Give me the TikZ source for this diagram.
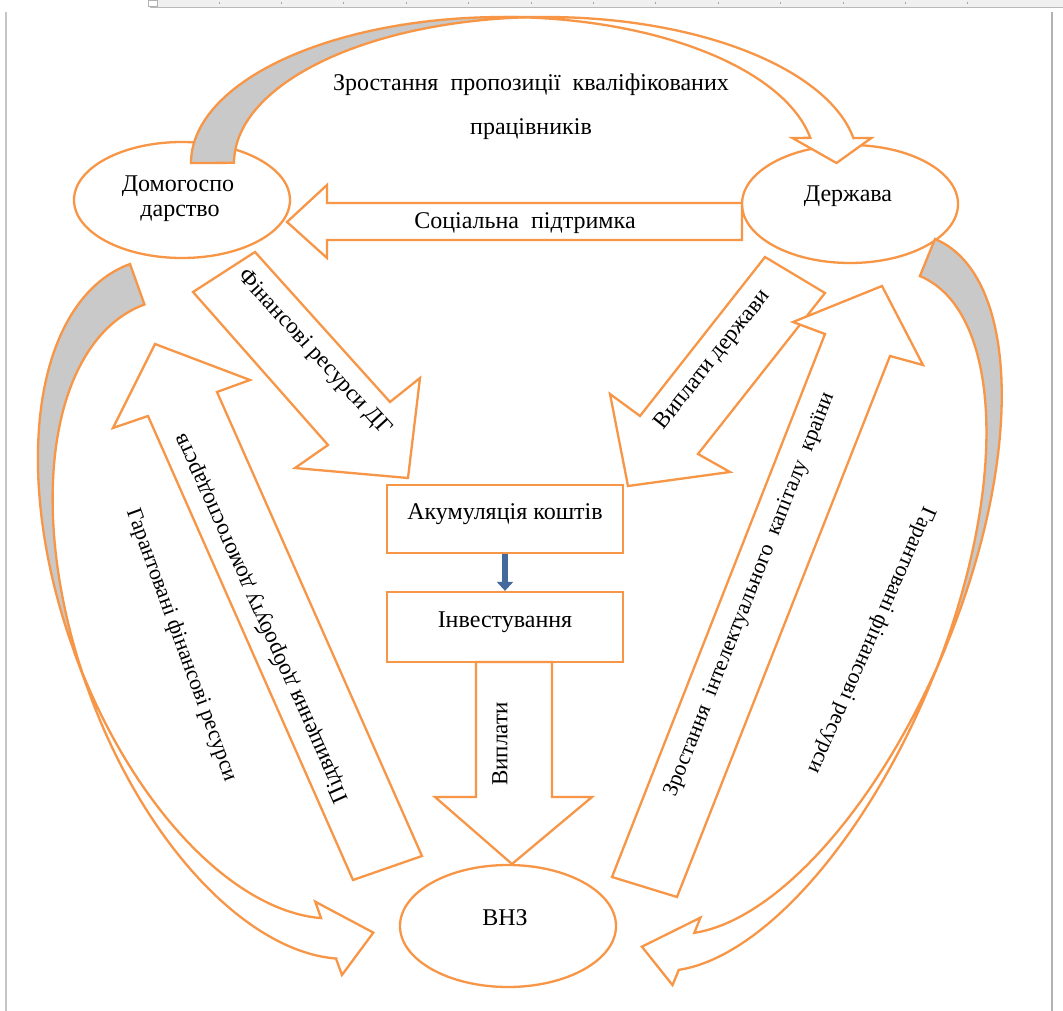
\documentclass[tikz,border=0pt]{standalone}
\usepackage{fontspec}
\setmainfont{Liberation Serif}
\usetikzlibrary{arrows.meta,shapes.geometric}
\definecolor{org}{HTML}{F79646}
\definecolor{shd}{HTML}{C9C9C9}
\definecolor{blu}{HTML}{44699C}
% curved block arrow in canonical frame (curved right arrow), args: w hR th aw ah
\newcommand\cvarrow[5]{%
 \pgfmathsetmacro\cW{#1}%
 \pgfmathsetmacro\cH{#2}%
 \pgfmathsetmacro\cT{#3}%
 \pgfmathsetmacro\cAW{#4}%
 \pgfmathsetmacro\cAH{#5}%
 \pgfmathsetmacro\cTa{180-asin(\cT/(2*\cH))}%
 \pgfmathsetmacro\cTb{180+asin(\cT/(2*\cH))}%
 \pgfmathsetmacro\cTA{acos(-\cAH/\cW)}%
 \pgfmathsetmacro\cDY{\cH*sqrt(1-(\cAH/\cW)^2)}%
 \pgfmathsetmacro\cYf{\cH+\cDY}%
 \pgfmathsetmacro\cYs{\cH+\cT+\cDY}%
 \pgfmathsetmacro\cDH{(\cAW-\cT)/2}%
 \pgfmathsetmacro\cYq{\cYf-\cDH}%
 \pgfmathsetmacro\cYe{\cYs+\cDH}%
 \pgfmathsetmacro\cYt{2*(\cH+(\cT+\cAW)/4)-\cAW/2}%
 \filldraw[gf] plot[domain=0:1,samples=70]
   ({\cW*cos(270+\x*(\cTa-270))},{\cH+\cH*sin(270+\x*(\cTa-270))})
   -- plot[domain=0:1,samples=70]
   ({\cW*cos(\cTb+\x*(270-\cTb))},{\cH+\cT+\cH*sin(\cTb+\x*(270-\cTb))})
   -- cycle;
 \filldraw[wf] plot[domain=0:1,samples=70]
   ({\cW*cos(180+\x*(\cTA-180))},{\cH+\cH*sin(180+\x*(\cTA-180))})
   -- (-\cAH,\cYq) -- (0,\cYt) -- (-\cAH,\cYe) -- (-\cAH,\cYs)
   -- plot[domain=0:1,samples=70]
   ({\cW*cos(\cTA+\x*(180-\cTA))},{\cH+\cT+\cH*sin(\cTA+\x*(180-\cTA))})
   -- cycle;
}
\begin{document}
\begin{tikzpicture}[x=1pt,y=-1pt,
  ol/.style={draw=org, line width=2.3pt, line join=miter},
  wf/.style={ol, fill=white},
  gf/.style={ol, fill=shd},
  ell/.style={wf, ellipse, inner sep=0pt, minimum width=216pt},
  boxn/.style={wf, rectangle, inner sep=0pt, minimum width=236pt},
  lbl/.style={font=\fontsize{24}{28}\selectfont, inner sep=0pt, text=black},
  rlbl/.style={font=\fontsize{23}{27}\selectfont, inner sep=0pt, text=black},
  slbl/.style={font=\fontsize{22}{26}\selectfont, inner sep=0pt, text=black}
]
\useasboundingbox[fill=white] (0,0) rectangle (1063,1011);
% ruler and window borders
\fill[gray!12] (150,0) rectangle (1063,7);
\draw[gray!55, line width=0.8pt] (150,7) -- (1063,7);
\draw[gray!60, line width=0.8pt, fill=white] (148,0) rectangle (157,6);
\foreach \k in {0,...,12}{\draw[gray!70, line width=0.8pt] ({219+62.4*\k},2) -- ({219+62.4*\k},4);}
\draw[gray!45, line width=1.2pt] (6,12) -- (6,1011);
\draw[gray!60, line width=1.2pt] (1052,12) -- (1052,1011);

% ellipses
\node[ell, minimum height=116pt] (dom) at (182,200) {};
\node[ell, minimum height=118pt] (der) at (850,204) {};
\node[ell, minimum height=122pt] (vnz) at (508,926) {};
% boxes
\node[boxn, minimum height=68pt] (akum) at (505,519) {};
\node[boxn, minimum height=70pt] (inv) at (505,627) {};
\draw[blu, line width=6pt, -{Triangle[width=16pt,length=9pt]}] (akum.south) -- (inv.north);

% block arrows
\filldraw[wf] (742,203) -- (327,203) -- (327,185) -- (287,222) -- (327,258) -- (327,240) -- (742,240) -- cycle;
\filldraw[wf] (255,252) -- (390,402) -- (420,378) -- (408,478) -- (295,468) -- (328,445) -- (193,292) -- cycle;
\filldraw[wf] (765,257) -- (825,293) -- (698,454) -- (730,472) -- (628,486) -- (610,394) -- (640,416) -- cycle;
\filldraw[wf] (612,877) -- (825,334) -- (793,322) -- (882,286) -- (923,365) -- (890,356) -- (677,897) -- cycle;
\filldraw[wf] (353,880) -- (148,416) -- (113,428) -- (155,344) -- (250,380) -- (217,392) -- (422,856) -- cycle;
\filldraw[wf] (476,662) -- (476,797) -- (435,797) -- (512,864) -- (592,797) -- (552,797) -- (552,662) -- cycle;

% curved arrows
\begin{scope}[shift={(191,163)}, rotate=90, xscale=-1]
  \cvarrow{146}{312}{43}{79}{25}
\end{scope}
\begin{scope}[shift={(130,264)}, rotate=20]
  \cvarrow{185}{345}{43}{78}{44}
\end{scope}
\begin{scope}[shift={(935,239)}, rotate=-22.5, xscale=-1]
  \cvarrow{166}{373}{40}{73}{43}
\end{scope}

% texts
\node[lbl, anchor=base] (t1) at (531,91) {Зростання \ пропозиції \ кваліфікованих};
\node[lbl, anchor=base] (t2) at (531,135) {працівників};
\node[lbl, anchor=base] (tdom1) at (178,192) {Домогоспо};
\node[lbl, anchor=base] (tdom2) at (180,217) {дарство};
\node[lbl, anchor=base] (tder) at (848,202) {Держава};
\node[lbl, anchor=base] (tsoc) at (525,229) {Соціальна \ підтримка};
\node[lbl, anchor=base] (takum) at (505,519) {Акумуляція коштів};
\node[lbl, anchor=base] (tinv) at (505,627) {Інвестування};
\node[lbl, anchor=base] (tvnz) at (505,925) {ВНЗ};
\node[rlbl, rotate=-47.5] (tfin) at (314,353) {Фінансові ресурси ДГ};
\node[rlbl, rotate=51.5] (tvypd) at (713,360) {Виплати держави};
\node[slbl, rotate=68.5] (tzr) at (750,595) {Зростання \ інтелектуального \ капіталу \ країни};
\node[slbl, rotate=-113.7] (tgr) at (871,640) {Гарантовані фінансові ресурси};
\node[slbl, rotate=-70] (tgl) at (181,645) {Гарантовані фінансові ресурси};
\node[rlbl, rotate=114] (tpid) at (262,618) {Підвищення добробуту домогосподарств};
\node[rlbl, rotate=90] (tvyp) at (500,744) {Виплати};
\end{tikzpicture}
\end{document}
